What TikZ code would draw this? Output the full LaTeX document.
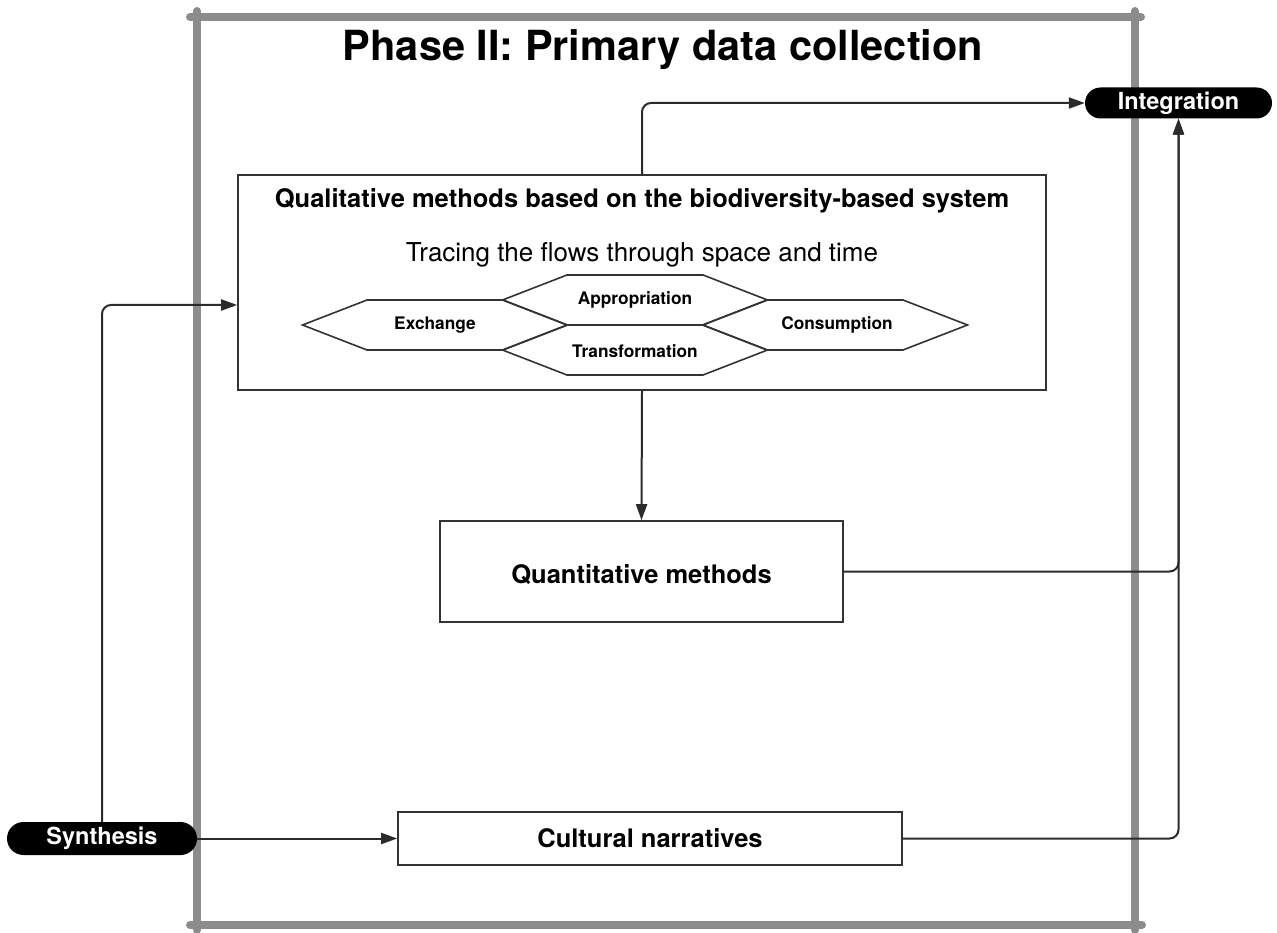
\documentclass[tikz,border=0pt]{standalone}
\usepackage{fontspec}
\setmainfont{TeX Gyre Heros}
\usetikzlibrary{arrows.meta}
\definecolor{framegray}{HTML}{8C8C8C}
\definecolor{connline}{HTML}{2B2B2B}
\definecolor{boxline}{HTML}{333333}
\begin{document}
\begin{tikzpicture}[x=1pt,y=-1pt,
  frameline/.style={draw=framegray,line width=8pt,line cap=round},
  box/.style={draw=boxline,line width=1.6pt,fill=white,inner sep=0pt},
  conn/.style={draw=connline,line width=2pt,rounded corners=9pt,
    -{Triangle[length=16pt,width=11pt]}},
  pill/.style={fill=black,text=white,rounded corners=15.5pt,inner sep=0pt,
    font=\fontsize{23.5}{24}\selectfont\bfseries},
  hexline/.style={draw=boxline,line width=1.6pt,line join=miter},
  hexlabel/.style={font=\fontsize{17.3}{18}\selectfont\bfseries},
  boldlabel/.style={font=\fontsize{25.5}{27}\selectfont\bfseries},
  hexa/.pic={\draw[hexline] (-132.5,0) -- (-68,-25) -- (68,-25) -- (132.5,0)
    -- (68,25) -- (-68,25) -- cycle;}]
\useasboundingbox (0,0) rectangle (1277,933);

% outer phase frame, four separate strokes with overshooting round ends
\draw[frameline] (190,17) -- (1141,17);
\draw[frameline] (190,925) -- (1142,925);
\draw[frameline] (197,11) -- (197,930);
\draw[frameline] (1135,11) -- (1135,930);

\node[font=\fontsize{41.5}{44}\selectfont\bfseries] (title) at (663,50)
  {Phase II: Primary data collection};

% qualitative block
\node[box,minimum width=808pt,minimum height=215pt] (qual) at (642,282.5) {};
\node[boldlabel] (qualtitle) at (642,201)
  {Qualitative methods based on the biodiversity-based system};
\node[font=\fontsize{26}{28}\selectfont] (tracing) at (642,255)
  {Tracing the flows through space and time};

% tessellated flow hexagons
\pic at (435,325) {hexa};
\pic at (635,300) {hexa};
\pic at (635,350) {hexa};
\pic at (835,325) {hexa};
\node[hexlabel] (exch) at (435,325) {Exchange};
\node[hexlabel] (appr) at (635,300) {Appropriation};
\node[hexlabel] (trans) at (635,351) {Transformation};
\node[hexlabel] (cons) at (837,325) {Consumption};

% quantitative and narrative blocks
\node[box,minimum width=403pt,minimum height=101pt] (quant)
  at (641.5,571.5) {};
\node[boldlabel] (quanttext) at (641.5,575) {Quantitative methods};
\node[box,boldlabel,minimum width=504pt,minimum height=53pt] (cult)
  at (650,838.5) {Cultural narratives};

% terminal pills
\node[pill,minimum width=187pt,minimum height=31pt] (integ) at (1178.5,103)
  {Integration};
\node[pill,minimum width=190pt,minimum height=33pt,rounded corners=16.5pt] (synth)
  at (102,838.5) {Synthesis};

% connectors
\draw[conn] (qual.north) |- (integ.west);
\draw[conn] (qual.south) -- (quant.north);
\draw[conn] (quant.east) -| (integ.south);
\draw[conn] (cult.east) -| (integ.south);
\draw[conn] (synth.north) |- ([yshift=-22.5pt]qual.west);
\draw[conn] (synth.east) -- (cult.west);
\end{tikzpicture}
\end{document}
